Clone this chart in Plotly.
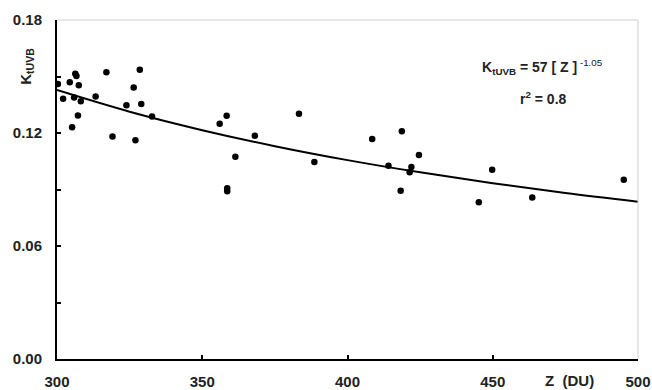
import plotly.graph_objects as go

# Observed data points (Z in DU, K_tUVB)
z_values = [300.3, 304.4, 306.3, 306.7, 307.5, 302.1, 305.9, 308.2, 307.2, 305.2,
            317.0, 313.3, 319.1, 328.5, 326.4, 323.9, 329.0, 332.7, 327.0,
            356.0, 358.4, 368.1, 361.4, 358.6, 358.6, 383.3, 388.6,
            408.5, 418.7, 424.6, 414.1, 422.0, 421.4, 418.3,
            449.8, 445.2, 463.6, 495.1]
k_values = [0.1460, 0.1469, 0.1515, 0.1503, 0.1453, 0.1382, 0.1389, 0.1368, 0.1293, 0.1230,
            0.1522, 0.1394, 0.1182, 0.1536, 0.1442, 0.1347, 0.1354, 0.1288, 0.1161,
            0.1249, 0.1292, 0.1186, 0.1074, 0.0907, 0.0891, 0.1302, 0.1046,
            0.1168, 0.1209, 0.1083, 0.1026, 0.1019, 0.0991, 0.0894,
            0.1005, 0.0832, 0.0858, 0.0952]

# Fitted curve
fit_z = [300, 325, 350, 375, 400, 425, 450, 475, 500]
fit_k = [0.1428, 0.1313, 0.1215, 0.1130, 0.1056, 0.0991, 0.0933, 0.0881, 0.0835]

x_ticks = [300, 350, 400, 450, 500]
y_ticks = [0.00, 0.06, 0.12, 0.18]

FONT = "Liberation Sans, Arial, sans-serif"
TICKFONT = dict(family=FONT, size=15, color="#222")

fig = go.Figure()
fig.add_trace(go.Scatter(x=fit_z, y=fit_k, mode="lines",
                         line=dict(color="black", width=2, shape="spline"),
                         hoverinfo="skip", showlegend=False))
fig.add_trace(go.Scatter(x=z_values, y=k_values, mode="markers",
                         marker=dict(color="black", size=6.5),
                         showlegend=False))

fig.update_layout(
    width=652, height=390,
    margin=dict(l=57, r=14, t=20, b=31, autoexpand=False),
    paper_bgcolor="white", plot_bgcolor="white",
    font=dict(family=FONT, size=14, color="#222"),
    xaxis=dict(range=[300, 500], tickvals=x_ticks, ticktext=[f"<b>{v}</b>" for v in x_ticks],
               tickfont=TICKFONT, automargin=False,
               ticks="inside", ticklen=4, tickwidth=2, tickcolor="black",
               showline=True, linecolor="black", linewidth=2, showgrid=False,
               zeroline=False, ticklabelstandoff=8),
    yaxis=dict(range=[0, 0.18], tickvals=y_ticks, ticktext=[f"<b>{v:.2f}</b>" for v in y_ticks],
               tickfont=TICKFONT, automargin=False,
               ticks="inside", ticklen=4, tickwidth=2, tickcolor="black",
               minor=dict(dtick=0.03, ticks="inside", ticklen=4, tickwidth=2, tickcolor="black"),
               showline=True, linecolor="black", linewidth=2, showgrid=False,
               zeroline=False, ticklabelstandoff=10),
    shapes=[
        dict(type="line", xref="paper", yref="paper", x0=0, x1=1, y0=1, y1=1,
             line=dict(color="#cfcfcf", width=1)),
        dict(type="line", xref="paper", yref="paper", x0=1, x1=1, y0=0, y1=1,
             line=dict(color="#cfcfcf", width=1)),
    ],
    annotations=[
        dict(text="<b>K<sub>tUVB</sub></b>", textangle=-90, xref="paper", yref="paper",
             x=-0.054, y=0.864, xanchor="center", yanchor="middle", showarrow=False,
             font=dict(family=FONT, size=15, color="#222")),
        dict(text="<b>K<sub>tUVB</sub> = 57 [ Z ]</b><sup> -1.05</sup>", xref="x", yref="y",
             x=467, y=0.1552, xanchor="center", yanchor="middle", showarrow=False,
             font=dict(family=FONT, size=14, color="#222")),
        dict(text="<b>r<sup>2</sup> = 0.8</b>", xref="x", yref="y",
             x=467.5, y=0.1387, xanchor="center", yanchor="middle", showarrow=False,
             font=dict(family=FONT, size=14, color="#222")),
        dict(text="<b>Z\u00a0\u00a0(DU)</b>", xref="paper", yref="paper",
             x=0.882, y=-0.064, xanchor="center", yanchor="middle", showarrow=False,
             font=dict(family=FONT, size=15, color="#222")),
    ],
)

fig.write_html("out.html", config={"displayModeBar": False},
               post_script="document.body.style.margin='0';document.body.style.overflow='hidden';")
